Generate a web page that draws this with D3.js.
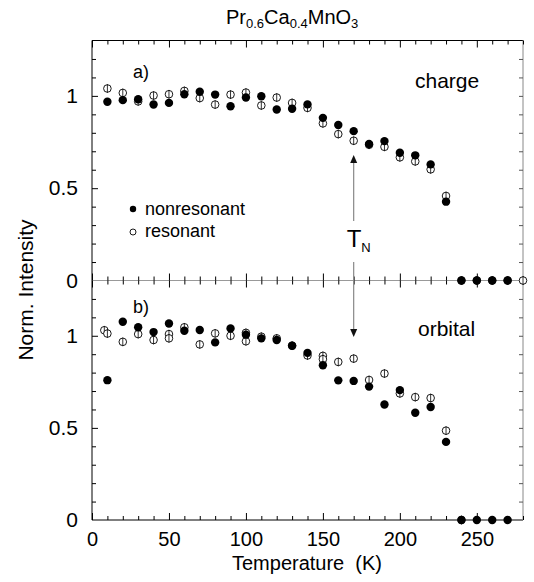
<!DOCTYPE html>
<html>
<head>
<meta charset="utf-8">
<script src="https://cdn.jsdelivr.net/npm/d3@7/dist/d3.min.js"></script>
<style>
  body { margin: 0; background: #fff; }
  svg text { font-family: "Liberation Sans", Arial, Helvetica, sans-serif; fill: #000; }
</style>
</head>
<body>
<div id="chart"></div>
<script>
// tick labels
const tempTicks = [0, 50, 100, 150, 200, 250];
const intensityTicks = [0, 0.5, 1];

// panel a) charge
const chargeNonresT = [10, 20, 30, 40, 50, 60, 70, 80, 90, 100, 110, 120, 130, 140, 150, 160, 170, 180, 190, 200, 210, 220, 230, 240, 250, 260, 270];
const chargeNonres = [0.968, 0.977, 0.982, 0.953, 0.962, 1.009, 1.022, 1.007, 0.944, 0.991, 0.998, 0.926, 0.930, 0.954, 0.881, 0.842, 0.809, 0.739, 0.755, 0.692, 0.678, 0.629, 0.427, 0, 0, 0, 0];
const chargeResT = [10, 20, 30, 40, 50, 60, 70, 80, 90, 100, 110, 120, 130, 140, 150, 160, 170, 180, 190, 200, 210, 220, 230, 240, 250, 260, 270, 280];
const chargeRes = [1.040, 1.016, 0.970, 1.002, 1.009, 1.027, 0.988, 0.953, 1.007, 1.018, 0.948, 0.991, 0.962, 0.935, 0.851, 0.793, 0.757, 0.735, 0.724, 0.667, 0.645, 0.602, 0.458, 0, 0, 0, 0, 0];

// panel b) orbital
const orbitalNonresT = [10, 20, 30, 40, 50, 60, 70, 80, 90, 100, 110, 120, 130, 140, 150, 160, 170, 180, 190, 200, 210, 220, 230, 240, 250, 260, 270];
const orbitalNonres = [0.759, 1.076, 1.046, 1.020, 1.067, 1.027, 1.031, 0.964, 1.040, 1.006, 0.986, 0.977, 0.946, 0.907, 0.840, 0.758, 0.755, 0.724, 0.627, 0.705, 0.582, 0.613, 0.424, 0, 0, 0, 0];
const orbitalResT = [8, 10, 20, 30, 40, 50, 50, 60, 70, 80, 90, 100, 100, 110, 120, 130, 140, 150, 150, 160, 170, 180, 190, 200, 210, 220, 230, 240];
const orbitalRes = [1.030, 1.012, 0.967, 1.009, 0.977, 1.009, 0.986, 1.046, 0.953, 1.013, 1.000, 1.016, 0.970, 0.995, 0.986, 0.946, 0.893, 0.891, 0.873, 0.858, 0.876, 0.760, 0.795, 0.687, 0.667, 0.662, 0.485, 0];

const panelLabels = ['a)', 'b)'];
const panelNames = ['charge', 'orbital'];
const neelTemp = 170;

const width = 534, height = 582;
const svg = d3.select('#chart').append('svg')
  .attr('width', width)
  .attr('height', height);

const x = d3.scaleLinear().domain([0, 280]).range([92, 523]);
const yTop = d3.scaleLinear().domain([0, 1.3]).range([280.5, 40.5]);
const yBot = d3.scaleLinear().domain([0, 1.3]).range([520, 280.5]);

const minorT = d3.range(0, 281, 10).filter(d => d % 50 !== 0);
const minorY = d3.range(1, 13).map(d => d / 10).filter(d => d !== 0.5 && d !== 1);

function clean(g) {
  g.select('.domain').remove();
  g.selectAll('.tick line').attr('stroke', '#000').attr('stroke-width', 1);
  return g;
}

/* frame */
svg.append('line').attr('x1', 92).attr('x2', 92).attr('y1', 40.5).attr('y2', 520).attr('stroke', '#000');
svg.append('line').attr('x1', 92).attr('x2', 523).attr('y1', 40.5).attr('y2', 40.5).attr('stroke', '#000');
svg.append('line').attr('x1', 92).attr('x2', 523).attr('y1', 520).attr('y2', 520).attr('stroke', '#000');
svg.append('line').attr('x1', 523).attr('x2', 523).attr('y1', 40.5).attr('y2', 520).attr('stroke', '#888');
svg.append('line').attr('x1', 92).attr('x2', 523).attr('y1', 280.5).attr('y2', 280.5).attr('stroke', '#999');

/* x ticks: top border (down), separator (both sides), bottom (up) */
const xTickRows = [
  { y: 40.5, axis: d3.axisBottom },
  { y: 280.5, axis: d3.axisBottom },
  { y: 280.5, axis: d3.axisTop },
  { y: 520, axis: d3.axisTop }
];
xTickRows.forEach(r => {
  svg.append('g').attr('transform', 'translate(0,' + r.y + ')')
    .call(r.axis(x).tickValues(minorT).tickSize(4).tickFormat(''))
    .call(clean);
  svg.append('g').attr('transform', 'translate(0,' + r.y + ')')
    .call(r.axis(x).tickValues(tempTicks).tickSize(7).tickFormat(''))
    .call(clean);
});

/* x tick labels */
svg.append('g').attr('transform', 'translate(0,520)')
  .call(d3.axisBottom(x).tickValues(tempTicks).tickSize(0).tickPadding(12).tickFormat(d => String(d)))
  .call(clean)
  .selectAll('text').style('font-size', '20px');

/* y ticks and labels per panel */
[yTop, yBot].forEach((y, i) => {
  svg.append('g').attr('transform', 'translate(92,0)')
    .call(d3.axisRight(y).tickValues(minorY).tickSize(4).tickFormat(''))
    .call(clean);
  svg.append('g').attr('transform', 'translate(92,0)')
    .call(d3.axisRight(y).tickValues(intensityTicks.filter(d => d > 0)).tickSize(6).tickFormat(''))
    .call(clean);
  svg.append('g').attr('transform', 'translate(523,0)')
    .call(d3.axisLeft(y).tickValues(minorY.concat([0.5, 1])).tickSize(4).tickFormat(''))
    .call(clean)
    .selectAll('.tick line').attr('stroke', '#555');
  svg.append('g').attr('transform', 'translate(92,0)')
    .call(d3.axisLeft(y).tickValues(intensityTicks).tickSize(0).tickPadding(14).tickFormat(d => String(d)))
    .call(clean)
    .selectAll('text').style('font-size', '21px');

  svg.append('text')
    .attr('x', 133)
    .attr('y', i === 0 ? 78 : 313)
    .style('font-size', '18px')
    .text(panelLabels[i]);

  svg.append('text')
    .attr('x', i === 0 ? 415 : 418)
    .attr('y', i === 0 ? 88 : 336)
    .style('font-size', '21px')
    .text(panelNames[i]);
});

/* T_N arrow */
const arrowColor = '#888';
const xn = x(neelTemp);
svg.append('line').attr('x1', xn).attr('x2', xn).attr('y1', 221).attr('y2', 161).attr('stroke', arrowColor).attr('stroke-width', 1.2);
svg.append('path').attr('d', `M${xn},155 L${xn - 3.5},163 L${xn + 3.5},163 Z`).attr('fill', '#111');
svg.append('line').attr('x1', xn).attr('x2', xn).attr('y1', 262).attr('y2', 331).attr('stroke', arrowColor).attr('stroke-width', 1.2);
svg.append('path').attr('d', `M${xn},337 L${xn - 3.5},329 L${xn + 3.5},329 Z`).attr('fill', '#111');

const tn = svg.append('text').attr('x', xn - 7).attr('y', 247).style('font-size', '24px');
tn.append('tspan').text('T');
tn.append('tspan').attr('dy', 5).style('font-size', '13px').text('N');

/* data points */
function drawOpen(y, ts, vs) {
  const g = svg.append('g');
  ts.forEach((t, k) => {
    g.append('circle').attr('cx', x(t)).attr('cy', y(vs[k])).attr('r', 3.8)
      .attr('fill', '#fff').attr('stroke', '#000').attr('stroke-width', 0.9);
    g.append('line').attr('x1', x(t)).attr('x2', x(t))
      .attr('y1', y(vs[k]) - 4.3).attr('y2', y(vs[k]) + 4.3)
      .attr('stroke', '#000').attr('stroke-width', 0.8);
  });
}
function drawFilled(y, ts, vs) {
  svg.append('g').selectAll('circle')
    .data(ts)
    .enter()
    .append('circle')
    .attr('cx', d => x(d))
    .attr('cy', (d, k) => y(vs[k]))
    .attr('r', 4.2)
    .attr('fill', '#000');
}
drawOpen(yTop, chargeResT, chargeRes);
drawFilled(yTop, chargeNonresT, chargeNonres);
drawOpen(yBot, orbitalResT, orbitalRes);
drawFilled(yBot, orbitalNonresT, orbitalNonres);

/* legend */
svg.append('circle').attr('cx', 133).attr('cy', 209).attr('r', 3.2).attr('fill', '#000');
svg.append('text').attr('x', 145).attr('y', 215).style('font-size', '18px').text('nonresonant');
svg.append('circle').attr('cx', 133).attr('cy', 232).attr('r', 3).attr('fill', '#fff').attr('stroke', '#000').attr('stroke-width', 0.9);
svg.append('text').attr('x', 145).attr('y', 237).style('font-size', '18px').text('resonant');

/* title */
const title = svg.append('text').attr('x', 226).attr('y', 24).style('font-size', '20px');
title.append('tspan').text('Pr');
title.append('tspan').attr('dy', 4).style('font-size', '13px').text('0.6');
title.append('tspan').attr('dy', -4).text('Ca');
title.append('tspan').attr('dy', 4).style('font-size', '13px').text('0.4');
title.append('tspan').attr('dy', -4).text('MnO');
title.append('tspan').attr('dy', 4).style('font-size', '13px').text('3');

/* axis titles */
svg.append('text')
  .attr('transform', 'translate(33,290) rotate(-90)')
  .attr('text-anchor', 'middle')
  .style('font-size', '21px')
  .text('Norm. Intensity');
svg.append('text')
  .attr('x', 307)
  .attr('y', 570)
  .attr('text-anchor', 'middle')
  .style('font-size', '20px')
  .style('white-space', 'pre')
  .text('Temperature  (K)');
</script>
</body>
</html>
